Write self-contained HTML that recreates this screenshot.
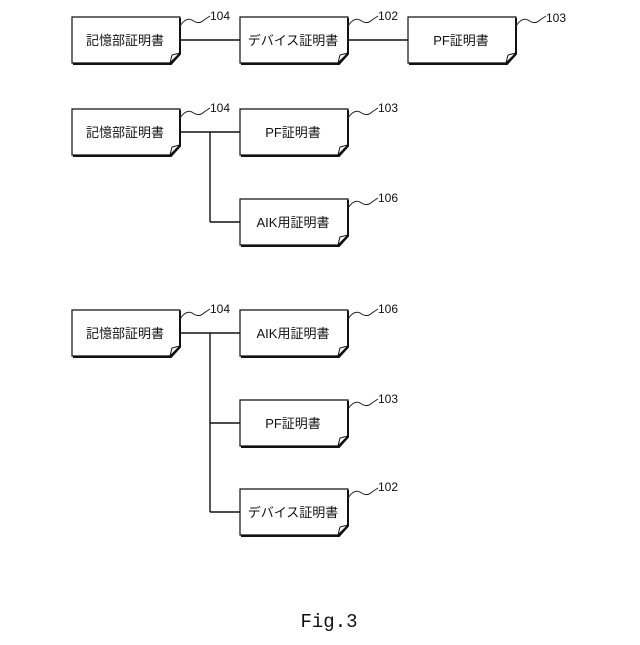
<!DOCTYPE html>
<html><head><meta charset="utf-8"><style>
html,body{margin:0;padding:0;background:#fff}
svg text{font-family:"Liberation Sans","Noto Sans CJK JP",sans-serif;fill:#111}
</style></head><body>
<svg width="640" height="640" viewBox="0 0 640 640" xmlns="http://www.w3.org/2000/svg">
<defs>
<g id="doc">
<path d="M0,0 H108 V36 L98,46 H0 Z" fill="#fff" stroke="#111" stroke-width="1.2"/>
<path d="M108,1 V37 L99,47 H1" fill="none" stroke="#111" stroke-width="2"/>
<path d="M98,46 L100,38 L108,36" fill="none" stroke="#111" stroke-width="1"/>
</g>
<path id="sq" d="M0,0 C4,-6 8,-8 12,-6 C16,-3 20,-2 24,-6 L30,-10" fill="none" stroke="#222" stroke-width="1"/>
</defs>
<g stroke="#111" stroke-width="1.4" fill="none">
<line x1="180" y1="40" x2="240" y2="40"/>
<line x1="348" y1="40" x2="408" y2="40"/>
<line x1="180" y1="132" x2="240" y2="132"/>
<line x1="210" y1="132" x2="210" y2="222"/>
<line x1="210" y1="222" x2="240" y2="222"/>
<line x1="180" y1="333" x2="240" y2="333"/>
<line x1="210" y1="333" x2="210" y2="512"/>
<line x1="210" y1="423" x2="240" y2="423"/>
<line x1="210" y1="512" x2="240" y2="512"/>
</g>
<use href="#doc" x="72" y="17"/><use href="#doc" x="240" y="17"/><use href="#doc" x="408" y="17"/>
<use href="#doc" x="72" y="109"/><use href="#doc" x="240" y="109"/><use href="#doc" x="240" y="199"/>
<use href="#doc" x="72" y="310"/><use href="#doc" x="240" y="310"/><use href="#doc" x="240" y="400"/><use href="#doc" x="240" y="489"/>
<use href="#sq" x="180" y="26"/><use href="#sq" x="348" y="26"/><use href="#sq" x="516" y="26"/>
<use href="#sq" x="180" y="118"/><use href="#sq" x="348" y="118"/><use href="#sq" x="348" y="208"/>
<use href="#sq" x="180" y="319"/><use href="#sq" x="348" y="319"/><use href="#sq" x="348" y="409"/><use href="#sq" x="348" y="498"/>
<g font-size="12">
<text x="210" y="20">104</text><text x="378" y="20">102</text><text x="546" y="22">103</text>
<text x="210" y="112">104</text><text x="378" y="112">103</text><text x="378" y="202">106</text>
<text x="210" y="313">104</text><text x="378" y="313">106</text><text x="378" y="403">103</text><text x="378" y="491">102</text>
</g>
<g font-size="13" text-anchor="middle">
<text x="125" y="45">記憶部証明書</text><text x="293" y="45">デバイス証明書</text><text x="461" y="45">PF証明書</text>
<text x="125" y="137">記憶部証明書</text><text x="293" y="137">PF証明書</text><text x="293" y="227">AIK用証明書</text>
<text x="125" y="338">記憶部証明書</text><text x="293" y="338">AIK用証明書</text><text x="293" y="428">PF証明書</text><text x="293" y="517">デバイス証明書</text>
</g>
<text x="329" y="627" font-size="19" text-anchor="middle" style="font-family:'Liberation Mono',monospace">Fig.3</text>
</svg>
</body></html>
